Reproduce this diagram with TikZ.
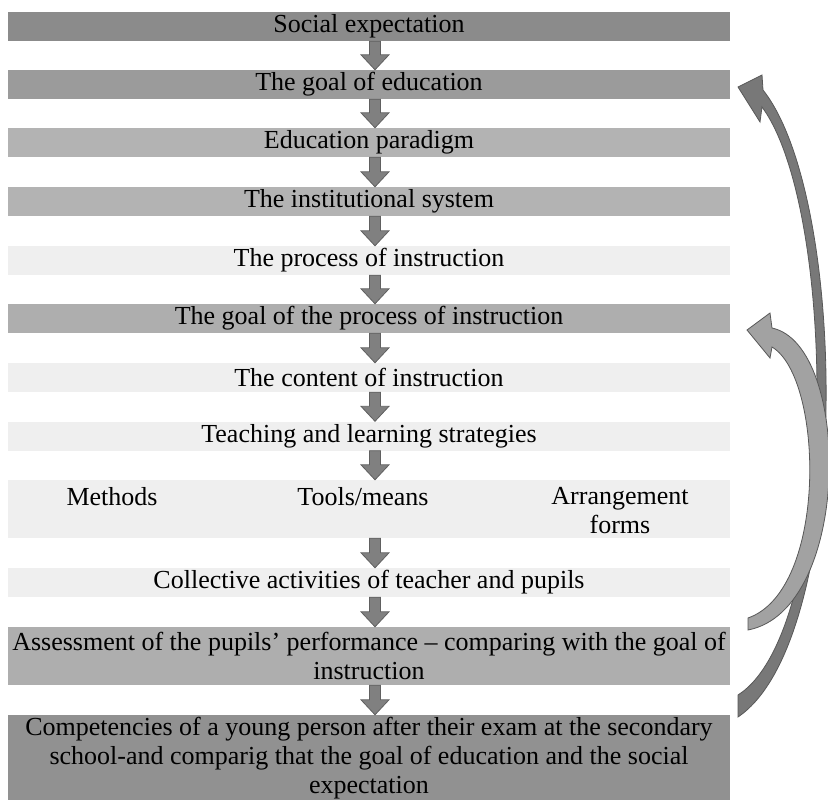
\documentclass[tikz,border=0pt]{standalone}
\usepackage{fontspec}
\setmainfont{Liberation Serif}
\usetikzlibrary{calc}

\definecolor{shadeA}{HTML}{8B8B8B}
\definecolor{shadeB}{HTML}{9B9B9B}
\definecolor{shadeC}{HTML}{B3B3B3}
\definecolor{shadeD}{HTML}{AEAEAE}
\definecolor{shadeE}{HTML}{EFEFEF}
\definecolor{shadeF}{HTML}{919191}
\definecolor{arrowfill}{HTML}{808080}
\definecolor{arrowline}{HTML}{606060}
\definecolor{loopdark}{HTML}{787878}
\definecolor{looplight}{HTML}{A2A2A2}
\definecolor{loopline}{HTML}{585858}

\begin{document}
\begin{tikzpicture}[x=1pt,y=-1pt,
  stage/.style={rectangle, minimum width=722pt, inner sep=0pt, align=center,
    font=\fontsize{26}{29}\selectfont},
  label/.style={inner sep=0pt, align=center, font=\fontsize{26}{29}\selectfont},
  blockarrow/.style={draw=arrowline, fill=arrowfill, line width=0.8pt,
    to path={let \p1=(\tikztostart), \p2=(\tikztotarget) in
      (\x1-5.5pt,\y1) -- (\x1-5.5pt,\y2+15pt) -- (\x1-14pt,\y2+15pt) -- (\x1,\y2)
      -- (\x1+14pt,\y2+15pt) -- (\x1+5.5pt,\y2+15pt) -- (\x1+5.5pt,\y1) -- cycle}},
  loopback/.style={draw=loopline, line width=0.8pt, line join=miter}]
\useasboundingbox (0,0) rectangle (828,800);

% stages of the chain
\node[stage, fill=shadeA, minimum height=29pt] (b1) at (369,26.5) {Social expectation};
\node[stage, fill=shadeB, minimum height=29pt] (b2) at (369,84.5) {The goal of education};
\node[stage, fill=shadeC, minimum height=29pt] (b3) at (369,142.5) {Education paradigm};
\node[stage, fill=shadeC, minimum height=29pt] (b4) at (369,201.5) {The institutional system};
\node[stage, fill=shadeE, minimum height=29pt] (b5) at (369,260.5) {The process of instruction};
\node[stage, fill=shadeD, minimum height=29pt] (b6) at (369,318.5) {The goal of the process of instruction};
\node[stage, fill=shadeE, minimum height=29pt] (b7) at (369,377.5) {The content of instruction};
\node[stage, fill=shadeE, minimum height=29pt] (b8) at (369,436) {Teaching and learning strategies};
\node[stage, fill=shadeE, minimum height=58pt] (b9) at (369,509) {};
\node[label] (methods) at (112,497) {Methods};
\node[label] (tools) at (363,497) {Tools/means};
\node[label] (forms) at (620,511) {Arrangement\\forms};
\node[stage, fill=shadeE, minimum height=29pt] (b10) at (369,582.5) {Collective activities of teacher and pupils};
\node[stage, fill=shadeD, minimum height=58pt] (b11) at (369,656)
  {Assessment of the pupils’ performance – comparing with the goal of\\instruction};
\node[stage, fill=shadeF, minimum height=86pt] (b12) at (369,758)
  {Competencies of a young person after their exam at the secondary\\school-and comparig that the goal of education and the social\\expectation};

% downward block arrows between the stages
\coordinate (axis) at (375,0);
\foreach \a/\b in {b1/b2,b2/b3,b3/b4,b4/b5,b5/b6,b6/b7,b7/b8,b8/b9,b9/b10,b10/b11,b11/b12}
  \draw[blockarrow] (\a.south -| axis) to (\b.north -| axis);

% feedback loops on the right
\coordinate (loopAtip) at (747,330);
\coordinate (loopBtip) at (738,87);
\path[loopback, fill=loopdark]
  (738,695) .. controls (840,630) and (838,210) .. (762,107)
  -- (760,122) -- (loopBtip) -- (762,75) -- (763,90)
  .. controls (850,200) and (852,640) .. (738,717) -- cycle;
\path[loopback, fill=looplight]
  (748,618) .. controls (828,590) and (824,378) .. (772,347)
  -- (770,358) -- (loopAtip) -- (770,313) -- (772,328)
  .. controls (852,345) and (852,610) .. (748,630) -- cycle;
\end{tikzpicture}
\end{document}
